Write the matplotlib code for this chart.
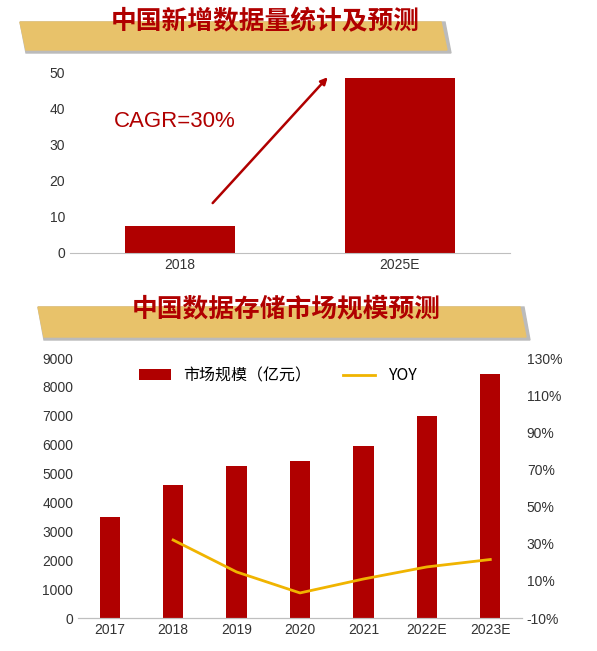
import matplotlib.pyplot as plt
import numpy as np
from matplotlib.patches import Polygon

plt.rcParams['font.family'] = ['Liberation Sans', 'Noto Sans CJK SC', 'DejaVu Sans']

top_cats = ["2018", "2025E"]
top_vals = [7.6, 48.6]

years = ["2017", "2018", "2019", "2020", "2021", "2022E", "2023E"]
market = [3500, 4600, 5250, 5450, 5950, 7000, 8450]
yoy = [None, 32, 14.8, 3.5, 11, 17.5, 21.5]

red = "#b00000"
W, H = 597, 651

fig = plt.figure(figsize=(5.97, 6.51), dpi=100)


def banner(x0, x1, y0, y1, text, tx, ty):
    # shadow + gold parallelogram, pixel coords
    sh = [(x0 + 4, H - y1 - 3), (x1 + 8, H - y1 - 3), (x1 + 2, H - y0), (x0 - 2, H - y0)]
    pts = [(x0 + 4, H - y1), (x1 + 4, H - y1), (x1 - 2, H - y0), (x0 - 2, H - y0)]
    fig.patches.append(Polygon([(a / W, b / H) for a, b in sh], closed=True,
                               transform=fig.transFigure, color="#bbbbbb", zorder=0))
    fig.patches.append(Polygon([(a / W, b / H) for a, b in pts], closed=True,
                               transform=fig.transFigure, color="#e8c26a", zorder=1))
    fig.text(tx / W, 1 - ty / H, text, ha="center", va="center", fontsize=18.5,
             fontweight="bold", color=red, zorder=3, family=["Noto Sans CJK SC"])


banner(22, 443, 22, 50, "中国新增数据量统计及预测", 265, 22)
banner(40, 522, 307, 337, "中国数据存储市场规模预测", 286, 309)

# top chart
ax1 = fig.add_axes([70 / W, 1 - 253 / H, 440 / W, 180 / H])
x1 = np.arange(len(top_cats))
ax1.bar(x1, top_vals, width=0.5, color=red)
ax1.set_xlim(-0.5, 1.5)
ax1.set_ylim(0, 50)
ax1.set_yticks(range(0, 51, 10))
ax1.set_xticks(x1)
ax1.set_xticklabels(top_cats)
for s in ["top", "right", "left"]:
    ax1.spines[s].set_visible(False)
ax1.spines["bottom"].set_color("#bfbfbf")
ax1.tick_params(length=0, labelsize=10, colors="#333333")
ax1.annotate("", xy=(0.68, 49.4), xytext=(0.14, 13.3),
             arrowprops=dict(arrowstyle="-|>", color=red, lw=1.8))
ax1.text(-0.3, 36.4, "CAGR=30%", fontsize=16, color=red, va="center")

# bottom chart
ax2 = fig.add_axes([78 / W, 1 - 618 / H, 444 / W, 260 / H])
x2 = np.arange(len(years))
ax2.bar(x2, market, width=0.32, color=red, label="市场规模（亿元）")
ax2.set_xlim(-0.5, 6.5)
ax2.set_ylim(0, 9000)
ax2.set_yticks(range(0, 9001, 1000))
ax2.set_xticks(x2)
ax2.set_xticklabels(years)
ax3 = ax2.twinx()
ax3.plot(x2[1:], yoy[1:], color="#f0b400", lw=2, label="YOY", solid_joinstyle="round")
ax3.set_ylim(-10, 130)
ax3.set_yticks(range(-10, 131, 20))
ax3.set_yticklabels([f"{v}%" for v in range(-10, 131, 20)])
for a in (ax2, ax3):
    for s in ["top", "right", "left"]:
        a.spines[s].set_visible(False)
    a.spines["bottom"].set_color("#bfbfbf")
    a.tick_params(length=0, labelsize=10, colors="#333333")
h1, l1 = ax2.get_legend_handles_labels()
h2, l2 = ax3.get_legend_handles_labels()
ax2.legend(h1 + h2, l1 + l2, loc="upper center", ncol=2, frameon=False, fontsize=11.5,
           bbox_to_anchor=(0.45, 1.02), handlelength=2, columnspacing=2,
           prop={"family": ["Noto Sans CJK SC"], "size": 11.5})

fig.savefig("out.png", dpi=100)
